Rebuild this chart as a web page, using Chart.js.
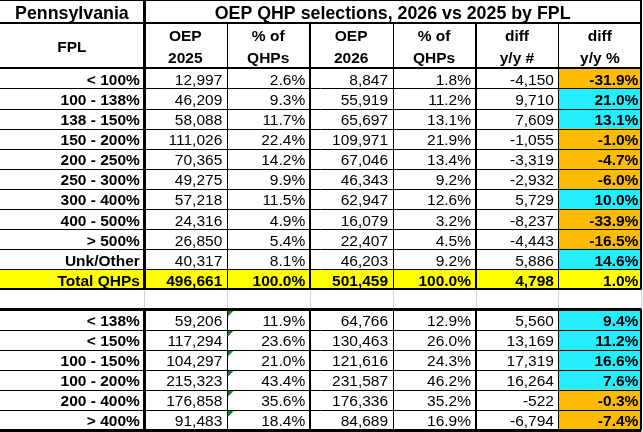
<!DOCTYPE html>
<html>
<head>
<meta charset="utf-8">
<script src="https://cdn.jsdelivr.net/npm/chart.js@4.4.0/dist/chart.umd.min.js"></script>
<style>
  html, body { margin: 0; padding: 0; background: #fff; }
  canvas { display: block; }
</style>
</head>
<body>
<canvas id="fplTable" width="643" height="432"></canvas>
<script>
// Pennsylvania OEP QHP selections by FPL, drawn as a table on Chart.js scales
const stateName = 'Pennsylvania';
const tableTitle = 'OEP QHP selections, 2026 vs 2025 by FPL';
const labelHeader = 'FPL';
const columnHeaders = [['OEP', '2025'], ['% of', 'QHPs'], ['OEP', '2026'], ['% of', 'QHPs'], ['diff', 'y/y #'], ['diff', 'y/y %']];

// main brackets (last one is the total row)
const fplBands = ['< 100%', '100 - 138%', '138 - 150%', '150 - 200%', '200 - 250%', '250 - 300%',
                  '300 - 400%', '400 - 500%', '> 500%', 'Unk/Other', 'Total QHPs'];
const oep2025 = [12997, 46209, 58088, 111026, 70365, 49275, 57218, 24316, 26850, 40317, 496661];
const share2025 = [2.6, 9.3, 11.7, 22.4, 14.2, 9.9, 11.5, 4.9, 5.4, 8.1, 100.0];
const oep2026 = [8847, 55919, 65697, 109971, 67046, 46343, 62947, 16079, 22407, 46203, 501459];
const share2026 = [1.8, 11.2, 13.1, 21.9, 13.4, 9.2, 12.6, 3.2, 4.5, 9.2, 100.0];
const diffCount = [-4150, 9710, 7609, -1055, -3319, -2932, 5729, -8237, -4443, 5886, 4798];
const diffPct = [-31.9, 21.0, 13.1, -1.0, -4.7, -6.0, 10.0, -33.9, -16.5, 14.6, 1.0];

// grouped brackets
const groupBands = ['< 138%', '< 150%', '100 - 150%', '100 - 200%', '200 - 400%', '> 400%'];
const grp2025 = [59206, 117294, 104297, 215323, 176858, 91483];
const grpShare2025 = [11.9, 23.6, 21.0, 43.4, 35.6, 18.4];
const grp2026 = [64766, 130463, 121616, 231587, 176336, 84689];
const grpShare2026 = [12.9, 26.0, 24.3, 46.2, 35.2, 16.9];
const grpDiffCount = [5560, 13169, 17319, 16264, -522, -6794];
const grpDiffPct = [9.4, 11.2, 16.6, 7.6, -0.3, -7.4];

// layout in table units: one body row = 1 on y, one value column = 1 on x
const X_LEFT = -1.735, X_RIGHT = 6.02;
const Y_TOP = -3.4, Y_TITLE = -2.25, Y_BOTTOM = 18.1;
const TOTAL_ROW = fplBands.length - 1;
const GROUP_START = fplBands.length + 1;
const GROUP_END = GROUP_START + groupBands.length;

const UP = '#22eeff', DOWN = '#ffbb00', TOTAL = '#ffff00';
const FONT = '"Liberation Sans", Arial, sans-serif';

const fmtNum = v => v.toLocaleString('en-US');
const fmtPct = v => v.toFixed(1) + '%';

const mainRows = fplBands.map((b, i) => [b, fmtNum(oep2025[i]), fmtPct(share2025[i]), fmtNum(oep2026[i]),
    fmtPct(share2026[i]), fmtNum(diffCount[i]), fmtPct(diffPct[i])]);
const groupRows = groupBands.map((b, i) => [b, fmtNum(grp2025[i]), fmtPct(grpShare2025[i]), fmtNum(grp2026[i]),
    fmtPct(grpShare2026[i]), fmtNum(grpDiffCount[i]), fmtPct(grpDiffPct[i])]);

// cell fills as floating bars
const cellData = [], cellColors = [];
cellData.push({ x: [X_LEFT, 6], y: TOTAL_ROW + 0.5 });
cellColors.push(TOTAL);
diffPct.slice(0, TOTAL_ROW).forEach((v, i) => {
    cellData.push({ x: [5, 6], y: i + 0.5 });
    cellColors.push(v < 0 ? DOWN : UP);
});
grpDiffPct.forEach((v, i) => {
    cellData.push({ x: [5, 6], y: GROUP_START + i + 0.5 });
    cellColors.push(v < 0 ? DOWN : UP);
});

const tablePlugin = {
    id: 'tableText',
    afterDatasetsDraw(chart) {
        const ctx = chart.ctx;
        const xs = chart.scales.x, ys = chart.scales.y;
        const px = v => xs.getPixelForValue(v);
        const py = v => ys.getPixelForValue(v);

        function hline(y, x0, x1, w, color) {
            ctx.beginPath();
            ctx.strokeStyle = color || '#000';
            ctx.lineWidth = w;
            const yy = Math.round(py(y)) + (w % 2 ? 0.5 : 0);
            ctx.moveTo(px(x0), yy);
            ctx.lineTo(px(x1), yy);
            ctx.stroke();
        }
        function vline(x, y0, y1, w, color) {
            ctx.beginPath();
            ctx.strokeStyle = color || '#000';
            ctx.lineWidth = w;
            const xx = Math.round(px(x)) + (w % 2 ? 0.5 : 0);
            ctx.moveTo(xx, py(y0));
            ctx.lineTo(xx, py(y1));
            ctx.stroke();
        }

        ctx.save();
        ctx.fillStyle = '#000';

        // title row
        ctx.font = 'bold 17.8px ' + FONT;
        ctx.textAlign = 'center';
        ctx.textBaseline = 'alphabetic';
        ctx.fillText(stateName, px((X_LEFT + 0) / 2), py(Y_TITLE) - 4);
        ctx.fillText(tableTitle, px(3), py(Y_TITLE) - 4);

        // header row
        ctx.font = 'bold 15.5px ' + FONT;
        const headMid = (py(Y_TITLE) + py(0)) / 2;
        ctx.fillText(labelHeader, px(X_LEFT / 2), headMid + 6);
        columnHeaders.forEach((lines, c) => {
            ctx.fillText(lines[0], px(c + 0.5), headMid - 5);
            ctx.fillText(lines[1], px(c + 0.5), headMid + 17.5);
        });

        // body rows
        ctx.textAlign = 'right';
        function drawRow(cells, row, allBold) {
            const base = py(row + 1) - 3.5;
            cells.forEach((t, c) => {
                const bold = allBold || c === 0 || c === 6;
                ctx.font = (bold ? 'bold ' : '') + '15.5px ' + FONT;
                const right = c === 0 ? px(0) - 4 : px(c) - (c === 6 ? 3 : 4.5);
                ctx.fillText(t, right, base);
            });
        }
        mainRows.forEach((cells, i) => drawRow(cells, i, i === TOTAL_ROW));
        groupRows.forEach((cells, i) => drawRow(cells, GROUP_START + i, false));

        // little green markers in grouped share column
        ctx.fillStyle = '#1b7a2a';
        for (let r = GROUP_START; r < GROUP_END; r++) {
            const x0 = px(1) + 1, y0 = py(r) + 1;
            ctx.beginPath();
            ctx.moveTo(x0, y0);
            ctx.lineTo(x0 + 6, y0);
            ctx.lineTo(x0, y0 + 6);
            ctx.closePath();
            ctx.fill();
        }

        // grid: blank spacer row
        const grey = '#d4d4d4';
        for (let c = 0; c <= 6; c++) vline(c, TOTAL_ROW + 1, GROUP_START, 1, grey);

        // grid: main block
        const inner = [1, 1, 2, 1, 2, 1];
        hline(Y_TOP, X_LEFT, 6, 2);
        hline(Y_TITLE, X_LEFT, 6, 2);
        hline(0, X_LEFT, 6, 2);
        for (let r = 1; r <= TOTAL_ROW; r++) hline(r, X_LEFT, 6, 1);
        hline(TOTAL_ROW + 1, X_LEFT, 6, 2);
        vline(0, Y_TOP, TOTAL_ROW + 1, 3);
        for (let c = 1; c <= 5; c++) vline(c, Y_TITLE, TOTAL_ROW + 1, inner[c]);
        vline(6, Y_TOP, TOTAL_ROW + 1, 2);

        // grid: grouped block
        hline(GROUP_START, X_LEFT, 6, 3);
        for (let r = GROUP_START + 1; r < GROUP_END; r++) hline(r, X_LEFT, 6, 1);
        hline(GROUP_END, X_LEFT, 6, 3);
        vline(0, GROUP_START, GROUP_END, 3);
        for (let c = 1; c <= 5; c++) vline(c, GROUP_START, GROUP_END, inner[c]);
        vline(6, GROUP_START, GROUP_END, 2);

        ctx.restore();
    }
};

new Chart(document.getElementById('fplTable').getContext('2d'), {
    type: 'bar',
    data: {
        datasets: [{
            data: cellData,
            backgroundColor: cellColors,
            borderWidth: 0,
            barPercentage: 1,
            categoryPercentage: 1,
            grouped: false
        }]
    },
    options: {
        indexAxis: 'y',
        responsive: false,
        animation: false,
        devicePixelRatio: 1,
        layout: { padding: 0 },
        plugins: { legend: { display: false }, tooltip: { enabled: false } },
        scales: {
            x: { type: 'linear', min: X_LEFT, max: X_RIGHT, display: false, offset: false },
            y: { type: 'linear', min: Y_TOP, max: Y_BOTTOM, reverse: true, display: false, offset: false,
                 ticks: { stepSize: 1, includeBounds: false } }
        }
    },
    plugins: [tablePlugin]
});
</script>
</body>
</html>
